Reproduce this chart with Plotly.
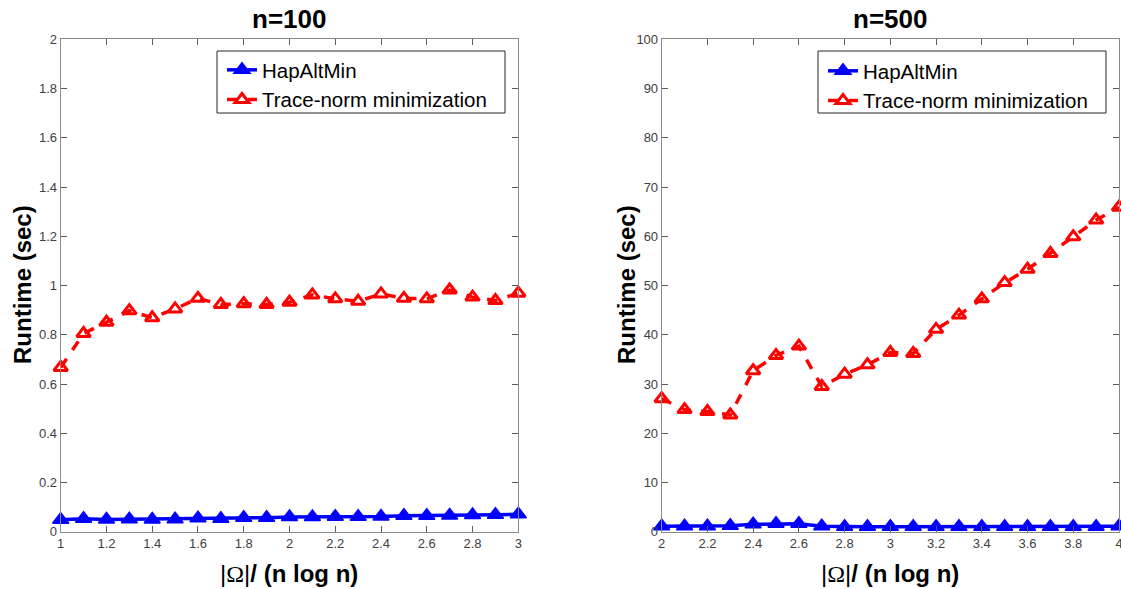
import plotly.graph_objects as go

# ---- data ----
x_n100 = [1.0, 1.1, 1.2, 1.3, 1.4, 1.5, 1.6, 1.7, 1.8, 1.9, 2.0,
          2.1, 2.2, 2.3, 2.4, 2.5, 2.6, 2.7, 2.8, 2.9, 3.0]
hap_n100 = [0.049, 0.053, 0.050, 0.051, 0.050, 0.051, 0.055, 0.053, 0.057, 0.057, 0.060,
            0.060, 0.061, 0.061, 0.062, 0.065, 0.065, 0.066, 0.068, 0.069, 0.071]
trace_n100 = [0.667, 0.805, 0.851, 0.898, 0.869, 0.905, 0.948, 0.923, 0.926, 0.923, 0.932,
              0.962, 0.946, 0.936, 0.966, 0.948, 0.946, 0.982, 0.953, 0.939, 0.969]

x_n500 = [2.0, 2.1, 2.2, 2.3, 2.4, 2.5, 2.6, 2.7, 2.8, 2.9, 3.0,
          3.1, 3.2, 3.3, 3.4, 3.5, 3.6, 3.7, 3.8, 3.9, 4.0]
hap_n500 = [1.1, 1.1, 1.1, 1.2, 1.5, 1.6, 1.6, 1.1, 1.0, 1.0, 1.0,
            1.0, 1.0, 1.0, 1.0, 1.0, 1.0, 1.0, 1.0, 1.0, 1.1]
trace_n500 = [27.0, 24.8, 24.4, 23.7, 32.7, 35.8, 37.7, 29.5, 32.0, 33.9, 36.4,
              36.2, 41.1, 44.0, 47.3, 50.6, 53.3, 56.5, 59.9, 63.3, 65.9]

titles = ["n=100", "n=500"]
series_names = ["HapAltMin", "Trace-norm minimization"]

BLUE = "#0000ff"
RED = "#ff0000"
FONT = "Liberation Sans, Arial, sans-serif"

fig = go.Figure()

def add_pair(x, hap, trace, xa, ya, legend):
    fig.add_trace(go.Scatter(
        x=x, y=hap, name=series_names[0], mode="lines+markers",
        line=dict(color=BLUE, width=3.5),
        marker=dict(symbol="triangle-up", size=14, color=BLUE, line=dict(color=BLUE, width=1.5)),
        xaxis=xa, yaxis=ya, legend=legend, cliponaxis=False))
    fig.add_trace(go.Scatter(
        x=x, y=trace, name=series_names[1], mode="lines+markers",
        line=dict(color=RED, width=3.5, dash="dash"),
        marker=dict(symbol="triangle-up-open", size=12, color=RED, line=dict(color=RED, width=3)),
        xaxis=xa, yaxis=ya, legend=legend, cliponaxis=False))

add_pair(x_n100, hap_n100, trace_n100, "x", "y", "legend")
add_pair(x_n500, hap_n500, trace_n500, "x2", "y2", "legend2")

axis_common = dict(
    showgrid=False, zeroline=False, showline=True, linecolor="#8a8a8a", linewidth=1,
    ticks="inside", ticklen=6, tickcolor="#5a5a5a", mirror="ticks",
    tickfont=dict(family=FONT, size=13, color="#404040"), automargin=False,
    ticklabeloverflow="allow",
)

ydom = [1 - 531.7 / 589, 1 - 39.4 / 589]
fig.update_layout(
    xaxis=dict(domain=[60.7 / 1121, 518.3 / 1121], range=[1, 3], tick0=1, dtick=0.2, anchor="y", **axis_common),
    yaxis=dict(domain=ydom, range=[0, 2], tick0=0, dtick=0.2, anchor="x", **axis_common),
    xaxis2=dict(domain=[661.7 / 1121, 1119 / 1121], range=[2, 4], tick0=2, dtick=0.2, anchor="y2", **axis_common),
    yaxis2=dict(domain=ydom, range=[0, 100], tick0=0, dtick=10, anchor="x2", **axis_common),
)

legend_common = dict(
    xanchor="left", yanchor="top", bgcolor="rgba(0,0,0,0)", borderwidth=0,
    font=dict(family=FONT, size=20.5, color="#000000"), tracegroupgap=0, itemwidth=30,
)
fig.update_layout(
    legend=dict(x=222 / 1121, y=1 - 50 / 589, **legend_common),
    legend2=dict(x=823 / 1121, y=1 - 51 / 589, **legend_common),
)

# legend boxes
for x0, x1 in [(217, 505), (818, 1106)]:
    fig.add_shape(type="rect", xref="paper", yref="paper",
                  x0=x0 / 1121, x1=x1 / 1121, y0=1 - 113 / 589, y1=1 - 51 / 589,
                  line=dict(color="#262626", width=1), fillcolor="rgba(255,255,255,1)", layer="below")

def ann(text, x, y, size, angle=0):
    fig.add_annotation(text=text, xref="paper", yref="paper", x=x / 1121, y=1 - y / 589,
                       showarrow=False, textangle=angle, xanchor="center", yanchor="middle",
                       font=dict(family=FONT, size=size, color="#000000"))

ann("<b>" + titles[0] + "</b>", 289, 19, 26)
ann("<b>" + titles[1] + "</b>", 890, 19, 26)

xlabel = ("|<span style='font-family:Liberation Serif, serif'>Ω</span>|<b>/ (n log n)</b>")
ann(xlabel, 289, 573, 24)
ann(xlabel, 890, 573, 24)
ann("<b>Runtime (sec)</b>", 22, 285, 24, -90)
ann("<b>Runtime (sec)</b>", 626, 285, 24, -90)

fig.update_layout(
    width=1121, height=589, margin=dict(l=0, r=0, t=0, b=0),
    plot_bgcolor="white", paper_bgcolor="white", showlegend=True,
)

fig.write_html("out.html", config={"displayModeBar": False},
               post_script="document.body.style.margin='0';document.body.style.overflow='hidden';")
